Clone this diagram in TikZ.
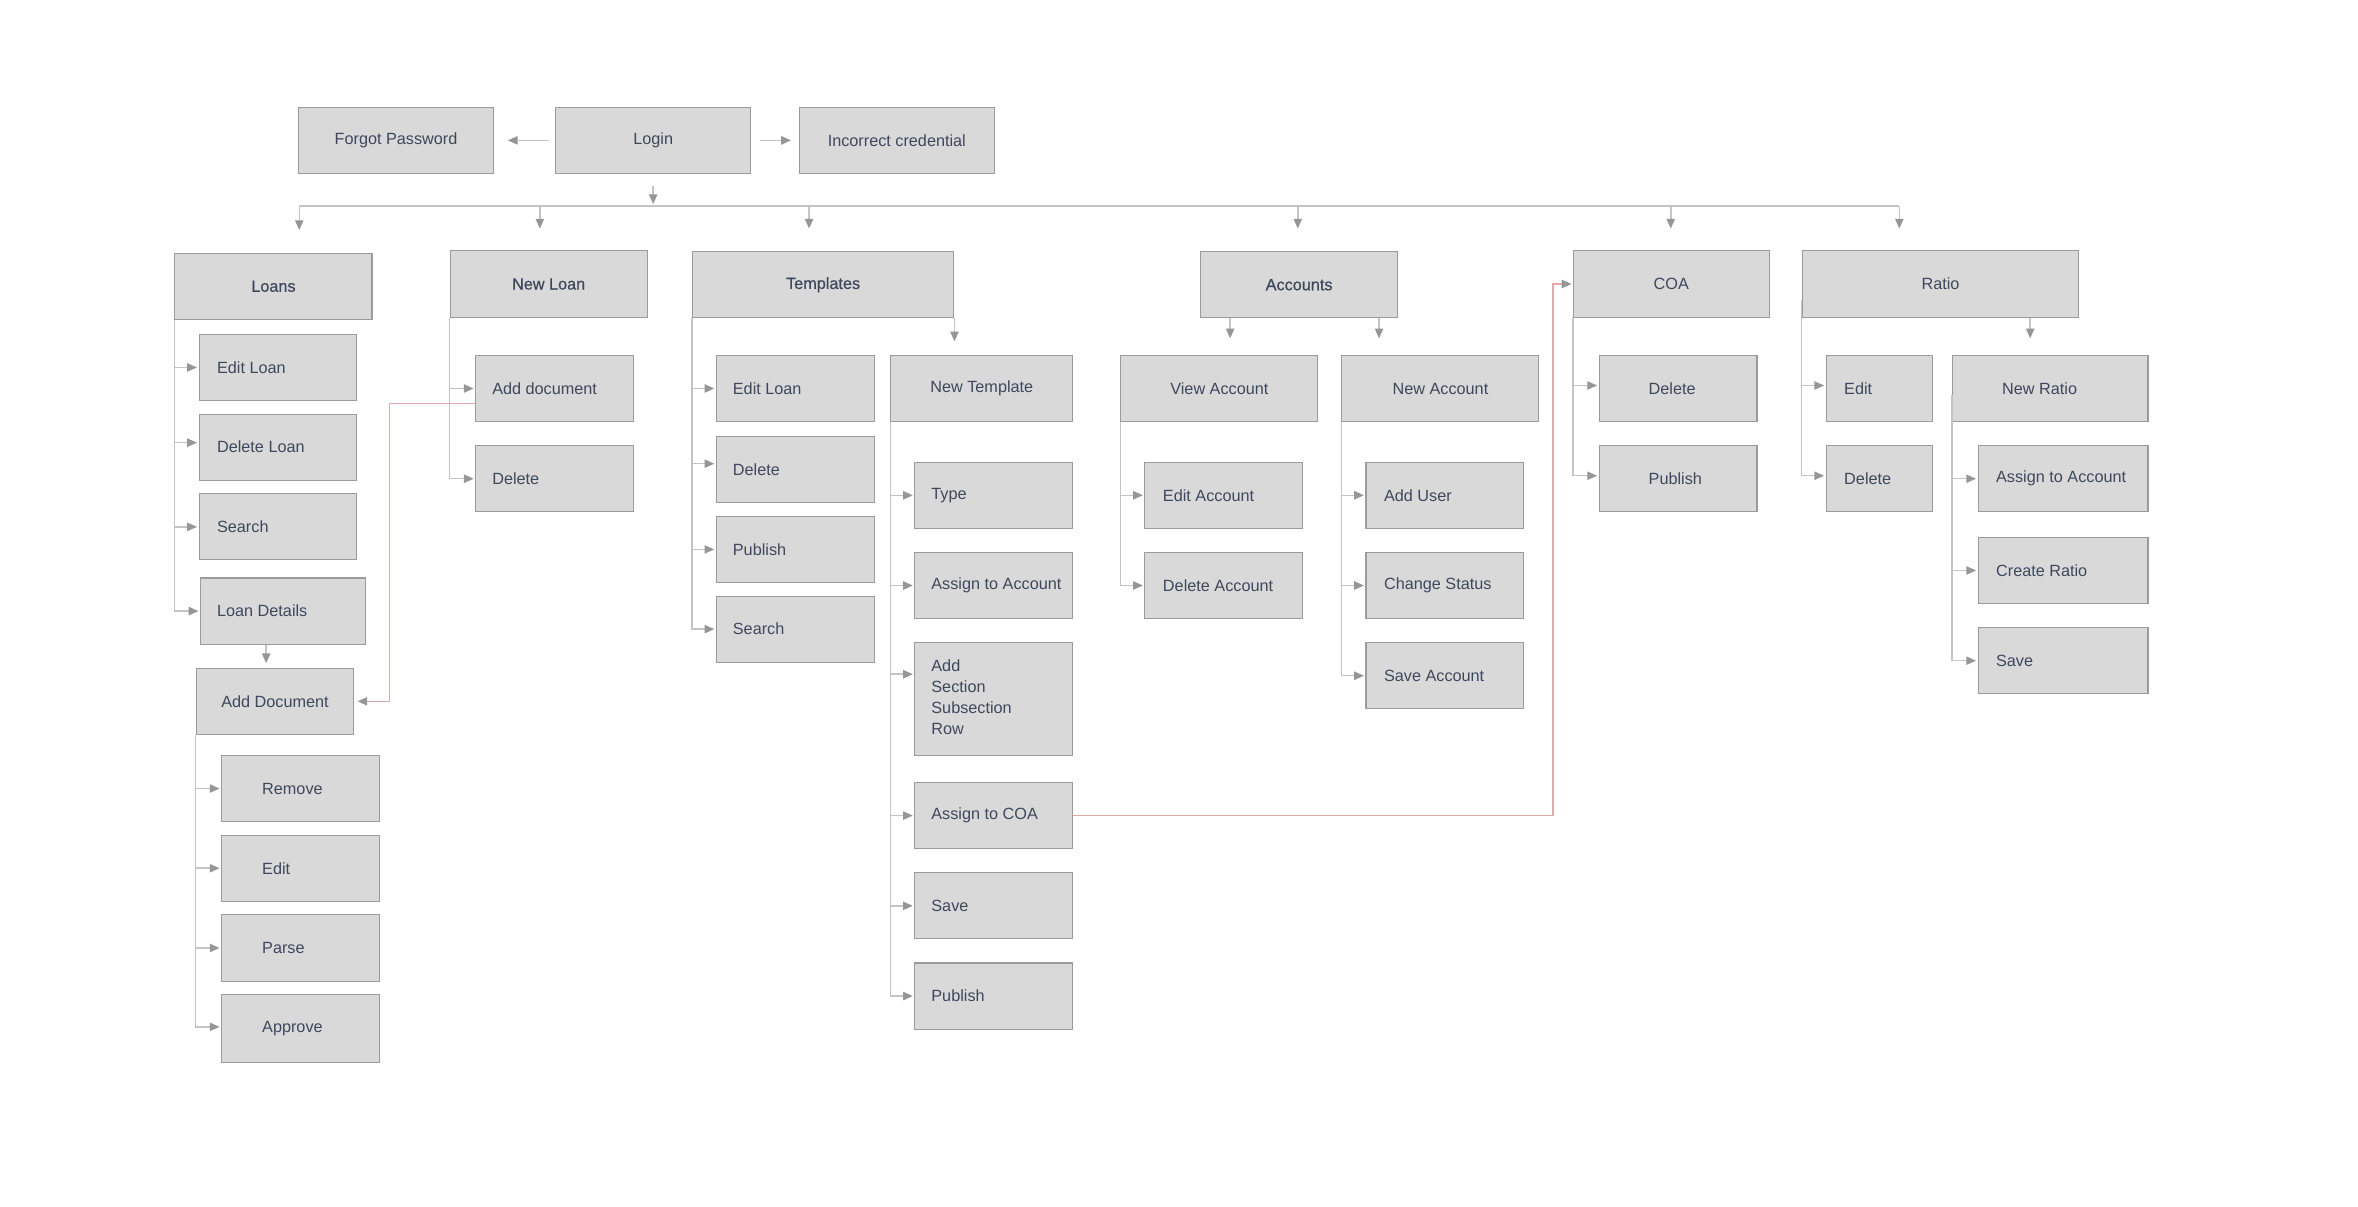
\documentclass[tikz,border=0pt]{standalone}
\usepackage{fontspec}
\setmainfont{Liberation Sans}
\newfontfamily\medfont[FakeBold=0.6]{Liberation Sans}
\usetikzlibrary{arrows.meta}
\definecolor{boxfill}{RGB}{217,217,217}
\definecolor{boxline}{RGB}{155,155,155}
\definecolor{linegray}{RGB}{196,196,196}
\definecolor{arrowgray}{RGB}{150,150,150}
\definecolor{txtc}{RGB}{62,72,92}
\definecolor{redc}{RGB}{228,168,172}
\newcommand\bxt[3]{\makebox[#1pt][l]{\hspace*{#2pt}#3}}
\tikzset{
  bx/.style={draw=boxline, fill=boxfill, line width=0.7pt, inner xsep=0pt, inner ysep=0pt,
    anchor=north west, minimum height=44pt, text=txtc, font=\fontsize{10.8}{14}\selectfont},
  ln/.style={draw=linegray, line width=1pt},
  ar/.style={ln, -{Triangle[length=6.5pt,width=5.5pt,color=arrowgray]}},
  redl/.style={draw=redc, line width=1pt, -{Triangle[length=6.5pt,width=5.5pt,color=arrowgray]}}
}
\begin{document}
\begin{tikzpicture}[x=1pt,y=-1pt]
\useasboundingbox[fill=white] (0,0) rectangle (1568,802);
% top row
\node[bx, minimum width=130pt] (forgot) at (198,71) {Forgot Password};
\node[bx, minimum width=130pt] (login) at (369,71) {Login};
\node[bx, minimum width=130pt] (incorrect) at (531,71) {Incorrect credential};
% second row
\node[bx, minimum width=131pt] (loans) at (116,168) {\medfont Loans};
\node[bx, minimum width=131pt, minimum height=45pt] (newloan) at (299,166) {\medfont New Loan};
\node[bx, minimum width=174pt] (tpl) at (460,167) {\medfont Templates};
\node[bx, minimum width=131pt] (acc) at (798,167) {\medfont Accounts};
\node[bx, minimum width=130pt, minimum height=45pt] (coa) at (1046,166) {COA};
\node[bx, minimum width=184pt, minimum height=45pt] (ratio) at (1198,166) {Ratio};
% Loans subtree
\node[bx] (editloan) at (132,222) {\bxt{105}{12}{Edit Loan}};
\node[bx] (delloan) at (132,275) {\bxt{105}{12}{Delete Loan}};
\node[bx] (lsearch) at (132,328) {\bxt{105}{12}{Search}};
\node[bx] (ldet) at (133,384) {\bxt{110}{11}{Loan Details}};
\node[bx, minimum width=105pt] (adddoc) at (130,444) {Add Document};
\node[bx] (remove) at (147,502) {\bxt{105}{27}{Remove}};
\node[bx] (dedit) at (147,555) {\bxt{105}{27}{Edit}};
\node[bx] (parse) at (147,608) {\bxt{105}{27}{Parse}};
\node[bx, minimum height=45pt] (approve) at (147,661) {\bxt{105}{27}{Approve}};
% New Loan subtree
\node[bx] (nadd) at (316,236) {\bxt{105}{11}{Add document}};
\node[bx] (ndel) at (316,296) {\bxt{105}{11}{Delete}};
% Templates subtree
\node[bx] (tedit) at (476,236) {\bxt{105}{11}{Edit Loan}};
\node[bx] (tdel) at (476,290) {\bxt{105}{11}{Delete}};
\node[bx] (tpub) at (476,343) {\bxt{105}{11}{Publish}};
\node[bx] (tsearch) at (476,396) {\bxt{105}{11}{Search}};
\node[bx, minimum width=121pt] (ntpl) at (592,236) {New Template};
\node[bx] (ttype) at (608,307) {\bxt{105}{11}{Type}};
\node[bx] (tassign) at (608,367) {\bxt{105}{11}{Assign to Account}};
\node[bx, minimum height=75pt] (tsec) at (608,427) {\bxt{105}{11}{\begin{tabular}{@{}l@{}}Add\\Section\\Subsection\\Row\end{tabular}}};
\node[bx] (acoa) at (608,520) {\bxt{105}{11}{Assign to COA}};
\node[bx] (tsave) at (608,580) {\bxt{105}{11}{Save}};
\node[bx] (tpub2) at (608,640) {\bxt{105}{11}{Publish}};
% Accounts subtree
\node[bx, minimum width=131pt] (view) at (745,236) {View Account};
\node[bx, minimum width=131pt] (newacc) at (892,236) {New Account};
\node[bx] (eacc) at (761,307) {\bxt{105}{12}{Edit Account}};
\node[bx] (dacc) at (761,367) {\bxt{105}{12}{Delete Account}};
\node[bx] (adduser) at (908,307) {\bxt{105}{12}{Add User}};
\node[bx] (chst) at (908,367) {\bxt{105}{12}{Change Status}};
\node[bx] (sacc) at (908,427) {\bxt{105}{12}{Save Account}};
% COA subtree
\node[bx] (cdel) at (1063,236) {\bxt{105}{33}{Delete}};
\node[bx] (cpub) at (1063,296) {\bxt{105}{33}{Publish}};
% Ratio subtree
\node[bx] (redit) at (1214,236) {\bxt{71}{12}{Edit}};
\node[bx] (rdel) at (1214,296) {\bxt{71}{12}{Delete}};
\node[bx] (nratio) at (1298,236) {\bxt{130}{33}{New Ratio}};
\node[bx] (rassign) at (1315,296) {\bxt{113}{12}{Assign to Account}};
\node[bx] (rcreate) at (1315,357) {\bxt{113}{12}{Create Ratio}};
\node[bx] (rsave) at (1315,417) {\bxt{113}{12}{Save}};

% top connectors
\draw[ar, shorten <=4pt, shorten >=9pt] (login.west) -- (forgot.east);
\draw[ar, shorten <=6pt, shorten >=5pt] (login.east) -- (incorrect.west);
\draw[ar] ([yshift=-8pt]login.south) -- ([yshift=-20pt]login.south);
\coordinate (d1) at (199,137);
\coordinate (d2) at (359,137);
\coordinate (d3) at (538,137);
\coordinate (d4) at (863,137);
\coordinate (d5) at (1111,137);
\coordinate (d6) at (1263,137);
\draw[ln, line width=1.2pt] (d1) -- (d6);
\draw[ar, shorten >=15pt] (d1) -- (d1 |- loans.north);
\draw[ar, shorten >=14pt] (d2) -- (d2 |- newloan.north);
\draw[ar, shorten >=15pt] (d3) -- (d3 |- tpl.north);
\draw[ar, shorten >=15pt] (d4) -- (d4 |- acc.north);
\draw[ar, shorten >=14pt] (d5) -- (d5 |- coa.north);
\draw[ar, shorten >=14pt] (d6) -- (d6 |- ratio.north);

% Loans branches
\draw[ar, shorten >=1pt] (loans.south west) |- (editloan.west);
\draw[ar, shorten >=1pt] (loans.south west) |- ([yshift=3pt]delloan.west);
\draw[ar, shorten >=1pt] (loans.south west) |- (lsearch.west);
\draw[ar, shorten >=1pt] (loans.south west) |- (ldet.west);
\draw[ar, shorten >=3pt] ([xshift=44pt]ldet.south west) -- ([xshift=44pt]ldet.south west |- adddoc.north);
\draw[ar, shorten >=1pt] (adddoc.south west) |- (remove.west);
\draw[ar, shorten >=1pt] (adddoc.south west) |- (dedit.west);
\draw[ar, shorten >=1pt] (adddoc.south west) |- (parse.west);
\draw[ar, shorten >=1pt] (adddoc.south west) |- ([yshift=1pt]approve.west);
% New Loan branches
\draw[ar, shorten >=1pt] (newloan.south west) |- (nadd.west);
\draw[ar, shorten >=1pt] (newloan.south west) |- (ndel.west);
% Templates branches
\draw[ar, shorten >=1pt] (tpl.south west) |- (tedit.west);
\draw[ar, shorten >=1pt] (tpl.south west) |- ([yshift=4pt]tdel.west);
\draw[ar, shorten >=1pt] (tpl.south west) |- (tpub.west);
\draw[ar, shorten >=1pt] (tpl.south west) |- (tsearch.west);
\draw[ar, shorten >=9pt] (tpl.south east) -- (tpl.south east |- ntpl.north);
\draw[ar, shorten >=1pt] (ntpl.south west) |- (ttype.west);
\draw[ar, shorten >=1pt] (ntpl.south west) |- (tassign.west);
\draw[ar, shorten >=1pt] (ntpl.south west) |- ([yshift=16.5pt]tsec.west);
\draw[ar, shorten >=1pt] (ntpl.south west) |- (acoa.west);
\draw[ar, shorten >=1pt] (ntpl.south west) |- (tsave.west);
\draw[ar, shorten >=1pt] (ntpl.south west) |- (tpub2.west);
% Accounts branches
\draw[ar, shorten >=11pt] ([xshift=20pt]acc.south west) -- ([xshift=20pt]acc.south west |- view.north);
\draw[ar, shorten >=11pt] ([xshift=119pt]acc.south west) -- ([xshift=119pt]acc.south west |- newacc.north);
\draw[ar, shorten >=1pt] (view.south west) |- (eacc.west);
\draw[ar, shorten >=1pt] (view.south west) |- (dacc.west);
\draw[ar, shorten >=1pt] (newacc.south west) |- (adduser.west);
\draw[ar, shorten >=1pt] (newacc.south west) |- (chst.west);
\draw[ar, shorten >=1pt] (newacc.south west) |- (sacc.west);
% COA branches
\draw[ar, shorten >=1pt] (coa.south west) |- ([yshift=2pt]cdel.west);
\draw[ar, shorten >=1pt] (coa.south west) |- ([yshift=2pt]cpub.west);
% Ratio branches
\draw[ar, shorten >=1pt] ([yshift=12pt]ratio.south west) |- ([yshift=2pt]redit.west);
\draw[ar, shorten >=1pt] ([yshift=12pt]ratio.south west) |- ([yshift=2pt]rdel.west);
\draw[ar, shorten >=11pt] ([xshift=152pt]ratio.south west) -- ([xshift=152pt]ratio.south west |- nratio.north);
\draw[ar, shorten >=1pt] ([yshift=18pt]nratio.south west) |- (rassign.west);
\draw[ar, shorten >=1pt] ([yshift=18pt]nratio.south west) |- (rcreate.west);
\draw[ar, shorten >=1pt] ([yshift=18pt]nratio.south west) |- (rsave.west);
% red links
\draw[redl, shorten >=2pt] ([yshift=-10pt]nadd.west) -- ++(-57pt,0) |- (adddoc.east);
\draw[redl, shorten >=1pt] (acoa.east) -- ++(319pt,0) |- (coa.west);
\end{tikzpicture}
\end{document}
